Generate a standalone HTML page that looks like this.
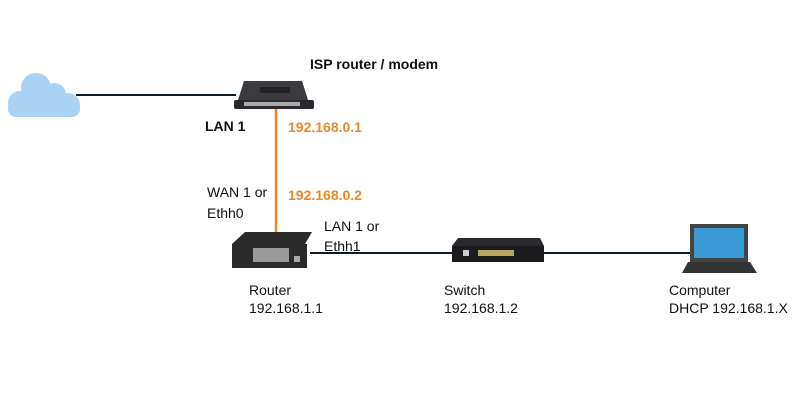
<!DOCTYPE html>
<html><head><meta charset="utf-8"><style>
html,body{margin:0;padding:0;background:#fff;}
svg{display:block}
text{font-family:"Liberation Sans",sans-serif;font-size:14px;fill:#111;}
.o{fill:#e8892a;font-weight:bold}
</style></head><body>
<svg width="800" height="400" viewBox="0 0 800 400">
<line x1="76" y1="95" x2="236" y2="95" stroke="#0d1b2a" stroke-width="2"/>
<line x1="276" y1="108" x2="276" y2="238" stroke="#e8892a" stroke-width="2.5"/>
<line x1="310" y1="253" x2="460" y2="253" stroke="#0d1b2a" stroke-width="2"/>
<line x1="540" y1="253" x2="690" y2="253" stroke="#0d1b2a" stroke-width="2"/>
<g fill="#a9d2f3">
<circle cx="36" cy="88" r="15"/><circle cx="54" cy="95" r="12"/><circle cx="20" cy="103" r="12"/><circle cx="68" cy="105" r="12"/>
<rect x="8" y="100" width="72" height="17" rx="8"/>
</g>
<polygon points="244,81 302,81 308,100 238,100" fill="#3a3a40"/>
<rect x="260" y="87" width="30" height="6" fill="#222"/>
<rect x="234" y="100" width="80" height="9" rx="2" fill="#2a2a2e"/>
<rect x="244" y="102" width="56" height="4" fill="#aaa"/>
<polygon points="245,232 312,232 305,244 232,244" fill="#2b2b2b"/>
<rect x="232" y="244" width="75" height="24" fill="#2a2a2a"/>
<rect x="253" y="248" width="36" height="14" fill="#9a9a9a"/>
<rect x="294" y="256" width="6" height="6" fill="#aaa"/>
<polygon points="458,238 540,238 544,246 452,246" fill="#2a2a2e"/>
<rect x="452" y="246" width="92" height="16" fill="#1b1b1f"/>
<rect x="463" y="250" width="6" height="6" fill="#ccc"/>
<rect x="478" y="250" width="36" height="6" fill="#b8a860"/>
<rect x="690" y="224" width="58" height="38" fill="#444"/>
<rect x="694" y="228" width="50" height="30" fill="#3a9ad6"/>
<polygon points="688,262 750,262 757,273 682,273" fill="#333"/>
<text x="310" y="69" font-weight="bold">ISP router / modem</text>
<text x="205" y="131" font-weight="bold">LAN 1</text>
<text x="288" y="132" class="o">192.168.0.1</text>
<text x="207" y="197">WAN 1 or</text>
<text x="207" y="218">Ethh0</text>
<text x="288" y="200" class="o">192.168.0.2</text>
<text x="324" y="231">LAN 1 or</text>
<text x="324" y="251">Ethh1</text>
<text x="249" y="295">Router</text>
<text x="249" y="313">192.168.1.1</text>
<text x="444" y="295">Switch</text>
<text x="444" y="313">192.168.1.2</text>
<text x="669" y="295">Computer</text>
<text x="669" y="313">DHCP 192.168.1.X</text>
</svg>
</body></html>
